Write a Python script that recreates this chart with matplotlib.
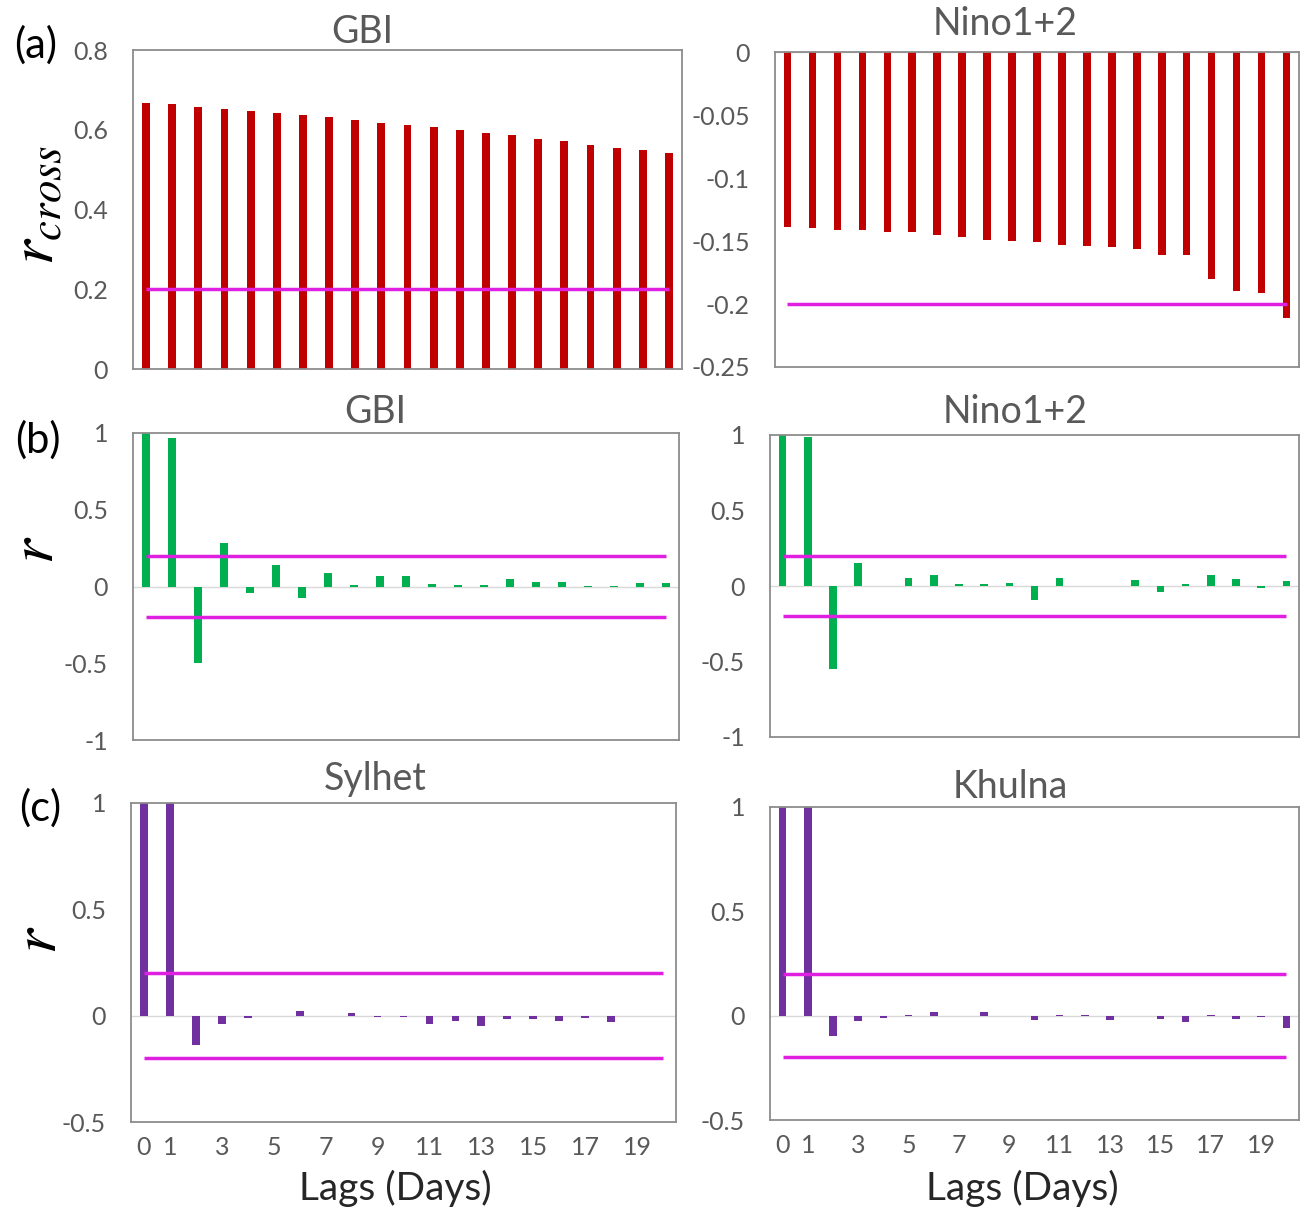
import numpy as np
import matplotlib
matplotlib.use("Agg")
import matplotlib.pyplot as plt

plt.rcParams['font.family'] = ['Lato', 'DejaVu Sans']
plt.rcParams['mathtext.fontset'] = 'stix'

# lags 0..20 days
lags = list(range(21))
xtick_pos = [0, 1, 3, 5, 7, 9, 11, 13, 15, 17, 19]
xtick_labels = ['0', '1', '3', '5', '7', '9', '11', '13', '15', '17', '19']

# (a) cross-correlation
gbi_cross = [0.668, 0.664, 0.658, 0.653, 0.646, 0.642, 0.636, 0.632, 0.624, 0.618,
             0.613, 0.607, 0.600, 0.592, 0.586, 0.577, 0.571, 0.563, 0.555, 0.550, 0.542]
nino_cross = [-0.139, -0.140, -0.141, -0.141, -0.143, -0.143, -0.145, -0.147, -0.149, -0.150,
              -0.151, -0.153, -0.154, -0.155, -0.156, -0.161, -0.161, -0.180, -0.190, -0.191, -0.211]
gbi_cross_thr = 0.2
nino_cross_thr = -0.2

# (b) autocorrelation of predictors
gbi_acf = [1.0, 0.97, -0.50, 0.285, -0.044, 0.14, -0.074, 0.09, 0.01, 0.07,
           0.07, 0.015, 0.008, 0.008, 0.05, 0.028, 0.028, 0.005, 0.005, 0.02, 0.022]
nino_acf = [1.0, 0.99, -0.55, 0.15, 0.0, 0.055, 0.073, 0.012, 0.01, 0.02,
            -0.095, 0.055, 0.0, 0.0, 0.04, -0.04, 0.012, 0.075, 0.045, -0.01, 0.03]

# (c) autocorrelation of stations
sylhet_acf = [1.0, 1.0, -0.14, -0.04, -0.012, 0.0, 0.02, 0.0, 0.011, -0.008,
              -0.008, -0.04, -0.024, -0.047, -0.016, -0.016, -0.024, -0.01, -0.03, 0.0, 0.0]
khulna_acf = [1.0, 1.0, -0.097, -0.024, -0.013, 0.005, 0.016, 0.0, 0.016, 0.0,
              -0.02, 0.005, 0.005, -0.02, 0.0, -0.018, -0.03, 0.005, -0.018, -0.008, -0.06]
acf_thr = 0.2

W, H = 1304, 1211
fig = plt.figure(figsize=(W / 100, H / 100), dpi=100)


def box(x0, y0, x1, y1):
    return [x0 / W, 1 - y1 / H, (x1 - x0) / W, (y1 - y0) / H]


def ftext(x, y, s, **kw):
    fig.text(x / W, 1 - y / H, s, ha='center', va='center', **kw)


tick_gray = '#595959'
spine_gray = '#8c8c8c'
red = '#C00000'
green = '#00B050'
purple = '#7030A0'
magenta = '#E020E0'
bar_w = 0.3


def style(ax, ylim, yticks, ylabels, xlabels=False):
    ax.set_xlim(-0.5, 20.5)
    ax.set_ylim(*ylim)
    ax.set_yticks(yticks)
    ax.set_yticklabels(ylabels)
    ax.tick_params(axis='y', length=0, pad=18, labelsize=18, labelcolor=tick_gray)
    if xlabels:
        ax.set_xticks(xtick_pos)
        ax.set_xticklabels(xtick_labels)
        ax.tick_params(axis='x', length=0, pad=10, labelsize=18, labelcolor=tick_gray)
    else:
        ax.set_xticks([])
    for sp in ax.spines.values():
        sp.set_color(spine_gray)
        sp.set_linewidth(1.3)


# (a) GBI
ax = fig.add_axes(box(133, 50, 682, 369))
ax.bar(lags, gbi_cross, width=bar_w, color=red, zorder=2)
ax.hlines(gbi_cross_thr, lags[0], lags[-1], color=magenta, lw=2.5, zorder=3)
style(ax, (0, 0.8), [0, 0.2, 0.4, 0.6, 0.8], ['0', '0.2', '0.4', '0.6', '0.8'])

# (a) Nino1+2
ax = fig.add_axes(box(775, 52, 1299, 367))
ax.bar(lags, nino_cross, width=bar_w, color=red, zorder=2)
ax.hlines(nino_cross_thr, lags[0], lags[-1], color=magenta, lw=2.5, zorder=3)
ax.axhline(0, color='#d9d9d9', lw=1, zorder=1)
style(ax, (-0.25, 0), [0, -0.05, -0.1, -0.15, -0.2, -0.25],
      ['0', '-0.05', '-0.1', '-0.15', '-0.2', '-0.25'])

# (b) panels
for (x0, y0, x1, y1), vals in [((133, 433, 679, 740), gbi_acf),
                               ((770, 435, 1299, 737), nino_acf)]:
    ax = fig.add_axes(box(x0, y0, x1, y1))
    ax.axhline(0, color='#d9d9d9', lw=1, zorder=1)
    ax.bar(lags, vals, width=bar_w, color=green, zorder=2)
    ax.hlines([acf_thr, -acf_thr], lags[0], lags[-1], color=magenta, lw=2.5, zorder=3)
    style(ax, (-1, 1), [1, 0.5, 0, -0.5, -1], ['1', '0.5', '0', '-0.5', '-1'])

# (c) panels
for (x0, y0, x1, y1), vals in [((131, 803, 676, 1122), sylhet_acf),
                               ((770, 807, 1299, 1120), khulna_acf)]:
    ax = fig.add_axes(box(x0, y0, x1, y1))
    ax.axhline(0, color='#d9d9d9', lw=1, zorder=1)
    ax.bar(lags, vals, width=bar_w, color=purple, zorder=2)
    ax.hlines([acf_thr, -acf_thr], lags[0], lags[-1], color=magenta, lw=2.5, zorder=3)
    style(ax, (-0.5, 1), [1, 0.5, 0, -0.5], ['1', '0.5', '0', '-0.5'], xlabels=True)

# titles
title_kw = dict(fontsize=27, color='#595959')
ftext(362, 32, 'GBI', **title_kw)
ftext(1005, 24, 'Nino1+2', **title_kw)
ftext(375, 412, 'GBI', **title_kw)
ftext(1015, 412, 'Nino1+2', **title_kw)
ftext(375, 779, 'Sylhet', **title_kw)
ftext(1010, 787, 'Khulna', **title_kw)

# panel letters and y labels
ftext(36, 45, '(a)', fontsize=30, color='black')
ftext(38, 440, '(b)', fontsize=30, color='black')
ftext(40, 808, '(c)', fontsize=30, color='black')
ftext(35, 205, r'$r_{cross}$', fontsize=46, rotation=90)
ftext(35, 550, r'$r$', fontsize=46, rotation=90)
ftext(38, 940, r'$r$', fontsize=46, rotation=90)

# x labels
ftext(395, 1188, 'Lags (Days)', fontsize=28, color='#262626')
ftext(1022, 1188, 'Lags (Days)', fontsize=28, color='#262626')

fig.savefig('out.png', dpi=100)
